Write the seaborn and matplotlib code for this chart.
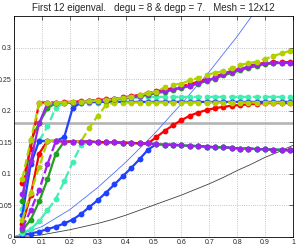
import numpy as np
import pandas as pd
import matplotlib
matplotlib.use('Agg')
import matplotlib.pyplot as plt
import seaborn as sns

sns.set_style('white')
plt.rcParams['font.family'] = ['Liberation Sans', 'DejaVu Sans']

# parameter grid (33 samples)
x = [0.03, 0.06, 0.09, 0.12, 0.15, 0.18, 0.21, 0.24, 0.27, 0.30, 0.33,
     0.36, 0.39, 0.42, 0.45, 0.48, 0.51, 0.54, 0.57, 0.60, 0.63, 0.66,
     0.69, 0.72, 0.75, 0.78, 0.81, 0.84, 0.87, 0.90, 0.93, 0.96, 0.99]

# eigenvalue curves
blue_low = [.003, .005, .008, .012, .016, .021, .027, .036, .047, .058, .070,
            .083, .096, .109, .123, .138, .147, .146, .146, .145, .144, .144,
            .143, .142, .142, .141, .140, .140, .139, .139, .138, .138, .137]
cyan_low = [.006, .012, .025, .042, .060, .088, .118, .145, .151, .150, .150,
            .150, .149, .149, .148, .148, .147, .146, .146, .145, .144, .144,
            .143, .142, .142, .141, .140, .140, .139, .139, .138, .138, .137]
green_low = [.010, .027, .056, .091, .132, .151, .151, .151, .151, .150, .150,
             .150, .149, .149, .148, .148, .147, .146, .146, .145, .144, .144,
             .143, .142, .142, .141, .140, .140, .139, .139, .138, .138, .137]
purple_low = [.014, .042, .074, .115, .152, .151, .151, .151, .151, .150, .150,
              .150, .149, .149, .148, .148, .147, .146, .146, .145, .144, .144,
              .143, .142, .142, .141, .140, .140, .139, .139, .138, .138, .137]
red_mid = [.020, .066, .132, .152, .152, .151, .151, .151, .151, .150, .150,
           .150, .149, .149, .148, .148, .158, .168, .177, .185, .192, .197,
           .201, .204, .206, .208, .209, .210, .211, .212, .212, .212, .212]
yg_mid = [.027, .070, .110, .152, .152, .151, .151, .151, .173, .192, .209,
          .213, .213, .213, .213, .213, .213, .213, .213, .213, .213, .213,
          .213, .213, .213, .213, .213, .213, .213, .213, .213, .213, .213]
blue_mid = [.035, .115, .152, .152, .152, .158, .204, .213, .214, .214, .214,
            .214, .214, .214, .214, .214, .214, .214, .214, .214, .214, .214,
            .214, .214, .214, .214, .214, .214, .214, .214, .214, .214, .214]
cyan_mid = [.044, .120, .152, .175, .205, .212, .213, .213, .213, .213, .215,
            .217, .219, .220, .221, .222, .222, .222, .222, .222, .222, .222,
            .222, .222, .222, .222, .222, .222, .222, .222, .222, .222, .222]
green_up = [.056, .153, .180, .204, .212, .213, .213, .214, .215, .216, .217,
            .218, .219, .221, .223, .225, .228, .230, .233, .236, .239, .243,
            .247, .251, .256, .260, .264, .268, .271, .274, .275, .276, .276]
purple_up = [.067, .120, .180, .212, .212, .213, .213, .214, .215, .216, .217,
             .218, .220, .222, .224, .226, .229, .231, .234, .237, .240, .244,
             .248, .252, .258, .262, .266, .270, .273, .275, .276, .276, .276]
red_up = [.085, .140, .213, .213, .213, .214, .214, .215, .216, .217, .218,
          .219, .221, .223, .225, .228, .231, .233, .236, .239, .242, .246,
          .250, .254, .259, .263, .267, .271, .274, .276, .277, .277, .277]
yg_up = [.092, .153, .212, .212, .213, .213, .214, .214, .215, .216, .217,
         .218, .220, .222, .225, .228, .230, .237, .241, .243, .248, .252,
         .257, .260, .263, .267, .273, .275, .278, .282, .287, .291, .295]

# thin reference curves
ref_x = [0.0, 0.05, 0.1, 0.15, 0.2, 0.25, 0.3, 0.35, 0.4, 0.45, 0.5,
         0.55, 0.6, 0.65, 0.7, 0.75, 0.8, 0.85, 0.9, 0.95, 1.0]
ref_black = [0.0, 0.001, 0.003, 0.007, 0.011, 0.016, 0.021, 0.027, 0.034,
             0.042, 0.050, 0.058, 0.066, 0.075, 0.084, 0.094, 0.105,
             0.115, 0.126, 0.135, 0.145]
ref_blue_x = [0.0, 0.1, 0.2, 0.3, 0.4, 0.5, 0.6, 0.7, 0.8, 0.86]
ref_blue = [0.0, 0.016, 0.043, 0.078, 0.118, 0.162, 0.211, 0.262, 0.318, 0.355]
level = 0.181

RED, GREEN, BLUE = '#ff0000', '#20a020', '#2040ff'
CYAN, PURPLE, YG = '#40f0b0', '#a020f0', '#b0d000'

curves = [
    ('blue_low', blue_low, BLUE, '-'),
    ('cyan_low', cyan_low, CYAN, '--'),
    ('green_low', green_low, GREEN, '-'),
    ('red_mid', red_mid, RED, '-'),
    ('cyan_mid', cyan_mid, CYAN, '--'),
    ('blue_mid', blue_mid, BLUE, '-'),
    ('yg_mid', yg_mid, YG, '--'),
    ('purple_low', purple_low, PURPLE, '--'),
    ('green_up', green_up, GREEN, '-'),
    ('red_up', red_up, RED, '--'),
    ('purple_up', purple_up, PURPLE, '-'),
    ('yg_up', yg_up, YG, '--'),
]

fig = plt.figure(figsize=(2.98, 2.45), dpi=100)
ax = fig.add_axes([14 / 298, 8.3 / 245, 279 / 298, 220.5 / 245])

ax.axhline(level, color='#b4b4b4', linewidth=1.9, zorder=1)
sns.lineplot(x=ref_x, y=ref_black, color='#404040', linewidth=0.6, ax=ax,
             estimator=None, sort=False)
sns.lineplot(x=ref_blue_x, y=ref_blue, color='#5070ff', linewidth=0.6, ax=ax,
             estimator=None, sort=False)

for name, vals, col, ls in curves:
    sns.lineplot(x=x, y=vals, color=col, linestyle=ls, linewidth=1.6,
                 marker='o', markersize=4.2, markeredgewidth=0,
                 estimator=None, sort=False, ax=ax)

ax.set_xlim(0, 1)
ax.set_ylim(0, 0.35)
ax.set_xticks([0, 0.1, 0.2, 0.3, 0.4, 0.5, 0.6, 0.7, 0.8, 0.9, 1])
ax.set_xticklabels(['0', '0.1', '0.2', '0.3', '0.4', '0.5', '0.6', '0.7', '0.8', '0.9', '1'])
ax.set_yticks([0, 0.05, 0.1, 0.15, 0.2, 0.25, 0.3])
ax.set_yticklabels(['0', '0.05', '0.1', '0.15', '0.2', '0.25', '0.3'])
ax.grid(True, linestyle=':', color='#b0b0b0', linewidth=0.6)
ax.tick_params(direction='in', length=3, width=0.5, labelsize=5, pad=1.5,
               top=True, right=True)
for s in ax.spines.values():
    s.set_linewidth(0.6)
    s.set_color('black')
ax.set_title('First 12 eigenval.   degu = 8 & degp = 7.   Mesh = 12x12',
             fontsize=7, pad=4)

fig.savefig('out.png', dpi=100)
